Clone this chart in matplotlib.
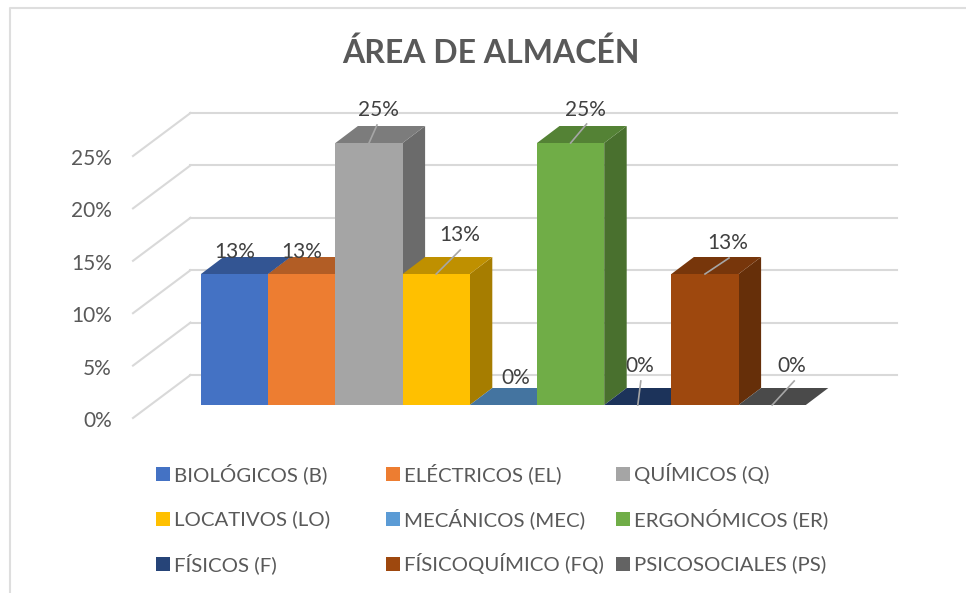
import matplotlib
matplotlib.use("Agg")

import matplotlib.pyplot as plt
from matplotlib.patches import Polygon, Rectangle

# --- Data ---
CATEGORIES = [
    "BIOLÓGICOS (B)", "ELÉCTRICOS (EL)", "QUÍMICOS (Q)",
    "LOCATIVOS (LO)", "MECÁNICOS (MEC)", "ERGONÓMICOS (ER)",
    "FÍSICOS (F)", "FÍSICOQUÍMICO (FQ)", "PSICOSOCIALES (PS)",
]
VALUES = [0.125, 0.125, 0.25, 0.125, 0.0, 0.25, 0.0, 0.125, 0.0]
VALUE_LABELS = ["13%", "13%", "25%", "13%", "0%", "25%", "0%", "13%", "0%"]
Y_TICKS = [0.0, 0.05, 0.10, 0.15, 0.20, 0.25]
Y_TICK_LABELS = ["0%", "5%", "10%", "15%", "20%", "25%"]

FRONT = ["#4472c4", "#ed7d31", "#a5a5a5", "#ffc000", "#5b9bd5",
         "#70ad47", "#264478", "#9e480e", "#636363"]
TOP = ["#335593", "#b25d25", "#7c7c7c", "#bf9000", "#4474a0",
       "#548235", "#1c335a", "#77360b", "#4a4a4a"]
SIDE = ["#2a4680", "#9a5020", "#6b6b6b", "#a67d00", "#3b6588",
        "#49702e", "#182c4e", "#662f09", "#404040"]

# --- Layout, in pixels of the 966x593 picture ---
W, H = 966, 593
BAR_W = 67.2
BAR_X0 = 201
BASE_Y = 405
PX_PER_UNIT = 1048
GRID_COLOR = "#d9d9d9"
TEXT_COLOR = "#595959"
LABEL_COLOR = "#404040"

# bar labels: pixel offset from the middle of the bar's front top edge
LABEL_OFFSET = [(0, -22), (0, -22), (9, -33), (24, -39), (12, -27),
                (15, -33), (2, -39), (23, -31), (20, -39)]
LEADER = [None, None, (8, -18), (24, -24), None, (16, -19), (3, -24), (24, -16), (22, -24)]

plt.rcParams["font.family"] = ["Lato", "DejaVu Sans"]

fig = plt.figure(figsize=(W / 100, H / 100), dpi=100)
ax = fig.add_axes([0, 0, 1, 1])
ax.set_xlim(-BAR_X0 / BAR_W, (W - BAR_X0) / BAR_W)
ax.set_ylim((BASE_Y - H) / PX_PER_UNIT, BASE_Y / PX_PER_UNIT)
ax.axis("off")

# pixel distances converted to data units
def dx(px):
    return px / BAR_W

def dy(px):
    return px / PX_PER_UNIT

# --- Chart frame ---
ax.plot([dx(10 - BAR_X0), dx(10 - BAR_X0), dx(W - BAR_X0)],
        [dy(BASE_Y - H), dy(BASE_Y - 8), dy(BASE_Y - 8)], color="#dedede", lw=1.5)

# --- Walls and gridlines ---
for t, lab in zip(Y_TICKS, Y_TICK_LABELS):
    ax.plot([dx(133 - BAR_X0), dx(190.5 - BAR_X0)], [t - dy(13), t + dy(30)], color=GRID_COLOR, lw=1.5)
    ax.plot([dx(190.5 - BAR_X0), dx(897 - BAR_X0)], [t + dy(30), t + dy(30)], color=GRID_COLOR, lw=1.5)
    ax.text(dx(112 - BAR_X0), t - dy(16), lab, ha="right", va="center", fontsize=15, color=TEXT_COLOR)

# --- Bars ---
DEPTH_X, DEPTH_Y = dx(22.5), dy(17)
for i, v in enumerate(VALUES):
    x0, x1 = i, i + 1
    if v > 0:
        ax.add_patch(Polygon([(x1, 0), (x1 + DEPTH_X, DEPTH_Y), (x1 + DEPTH_X, v + DEPTH_Y), (x1, v)],
                             facecolor=SIDE[i], edgecolor="none", zorder=2 + i))
    ax.add_patch(Polygon([(x0, v), (x1, v), (x1 + DEPTH_X, v + DEPTH_Y), (x0 + DEPTH_X, v + DEPTH_Y)],
                         facecolor=TOP[i], edgecolor="none", zorder=2 + i))
    if v > 0:
        ax.add_patch(Rectangle((x0, 0), 1, v, facecolor=FRONT[i], edgecolor="none", zorder=2 + i))

# --- Value labels and leader lines ---
for i, (v, lab) in enumerate(zip(VALUES, VALUE_LABELS)):
    xc = i + 0.5
    if LEADER[i]:
        lx, ly = LEADER[i]
        ax.plot([xc, xc + dx(lx)], [v, v + dy(-ly)], color="#a6a6a6", lw=1.2, zorder=20)
    ox, oy = LABEL_OFFSET[i]
    ax.text(xc + dx(ox), v + dy(-oy), lab, ha="center", va="center", fontsize=15,
            color=LABEL_COLOR, zorder=21)

# --- Title ---
ax.text(dx(490.5 - BAR_X0), dy(BASE_Y - 53), "ÁREA DE ALMACÉN", ha="center", va="center",
        fontsize=23, fontweight="bold", color=TEXT_COLOR)

# --- Legend, filled row by row ---
LEGEND_X = [156, 386, 616]
LEGEND_Y = [474, 519, 564]
for i, name in enumerate(CATEGORIES):
    row, col = divmod(i, 3)
    px, py = LEGEND_X[col], LEGEND_Y[row]
    ax.add_patch(Rectangle((dx(px - BAR_X0), dy(BASE_Y - py - 7)), dx(14), dy(14),
                           facecolor=FRONT[i], edgecolor="none"))
    ax.text(dx(px + 18 - BAR_X0), dy(BASE_Y - py), name, ha="left", va="center",
            fontsize=14.7, color=TEXT_COLOR)

fig.savefig("out.png", dpi=100)
